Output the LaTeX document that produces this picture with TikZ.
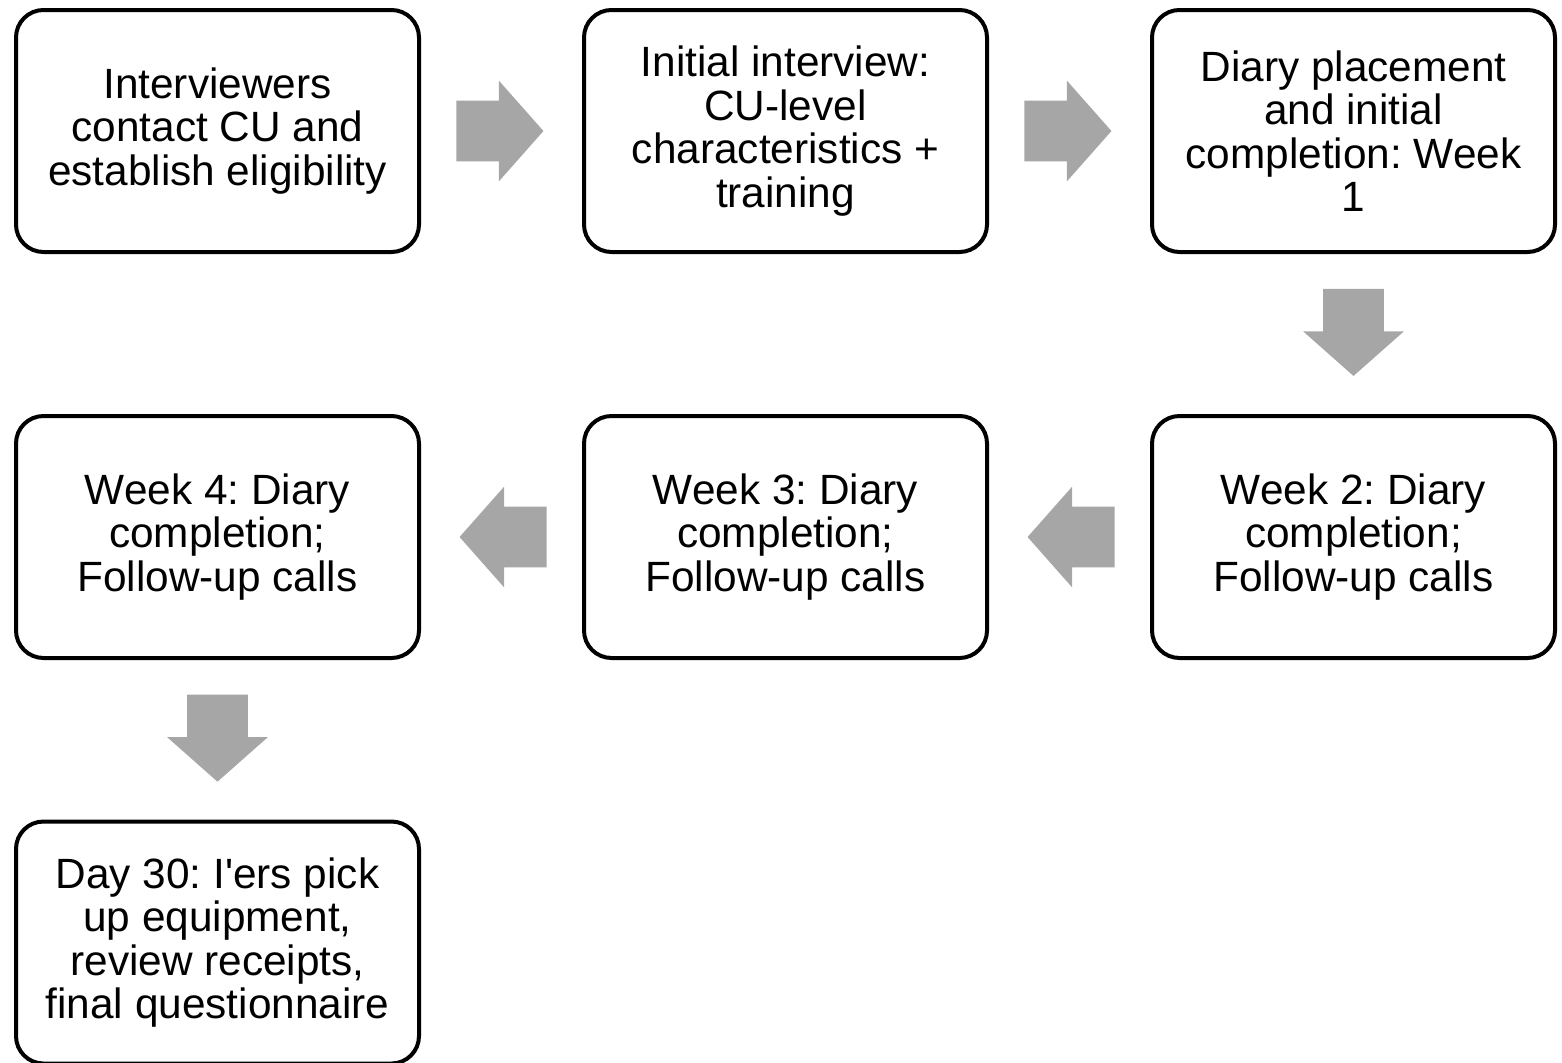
\documentclass[tikz,border=0pt]{standalone}
\usepackage{fontspec}
\setmainfont{Liberation Sans}
\usepackage{tikz}
\usetikzlibrary{shapes.arrows, calc, positioning}
\definecolor{arrowgray}{HTML}{A6A6A6}
\frenchspacing

\begin{document}
\begin{tikzpicture}[
    stage/.style={rectangle, rounded corners=0.55cm, draw=black, line width=0.08cm,
                  minimum width=8.06cm, minimum height=4.84cm, align=center,
                  font=\fontsize{24.1pt}{24.7pt}\selectfont},
    bigarrow/.style={single arrow, draw=none, fill=arrowgray, inner sep=0pt,
                     text height=1.2cm, text depth=0pt, minimum height=1.74cm,
                     single arrow head extend=0.4cm, single arrow tip angle=97}
]
    \useasboundingbox (0,0) rectangle (31.24,-21.24);

    % First row
    \node[stage] (a1) at (4.35, -2.62) {Interviewers\\contact CU and\\establish eligibility};
    \node[stage] (a2) at (15.71, -2.62) {Initial interview:\\CU-level\\characteristics +\\training};
    \node[stage] (a3) at (27.07, -2.62) {Diary placement\\and initial\\completion: Week\\1};

    % Second row
    \node[stage] (b3) at (27.07, -10.74) {Week 2: Diary\\completion;\\Follow-up calls};
    \node[stage] (b2) at (15.71, -10.74) {Week 3: Diary\\completion;\\Follow-up calls};
    \node[stage] (b1) at (4.35, -10.74) {Week 4: Diary\\completion;\\Follow-up calls};

    % Last step
    \node[stage] (c1) at (4.35, -18.85) {Day 30: I\textquotesingle ers pick\\up equipment,\\review receipts,\\final questionnaire};

    % Block arrows
    \node[bigarrow] (r1) at ($(a1.east)!0.5!(a2.west)+(-0.3,0)$) {};
    \node[bigarrow] (r2) at ($(a2.east)!0.5!(a3.west)+(-0.3,0)$) {};
    \node[bigarrow, rotate=-90] (d1) at ($(a3.south)!0.5!(b3.north)+(0,0.3)$) {};
    \node[bigarrow, rotate=180] (l1) at ($(b3.west)!0.5!(b2.east)+(0.3,0)$) {};
    \node[bigarrow, rotate=180] (l2) at ($(b2.west)!0.5!(b1.east)+(0.3,0)$) {};
    \node[bigarrow, rotate=-90] (d2) at ($(b1.south)!0.5!(c1.north)+(0,0.3)$) {};
\end{tikzpicture}
\end{document}
